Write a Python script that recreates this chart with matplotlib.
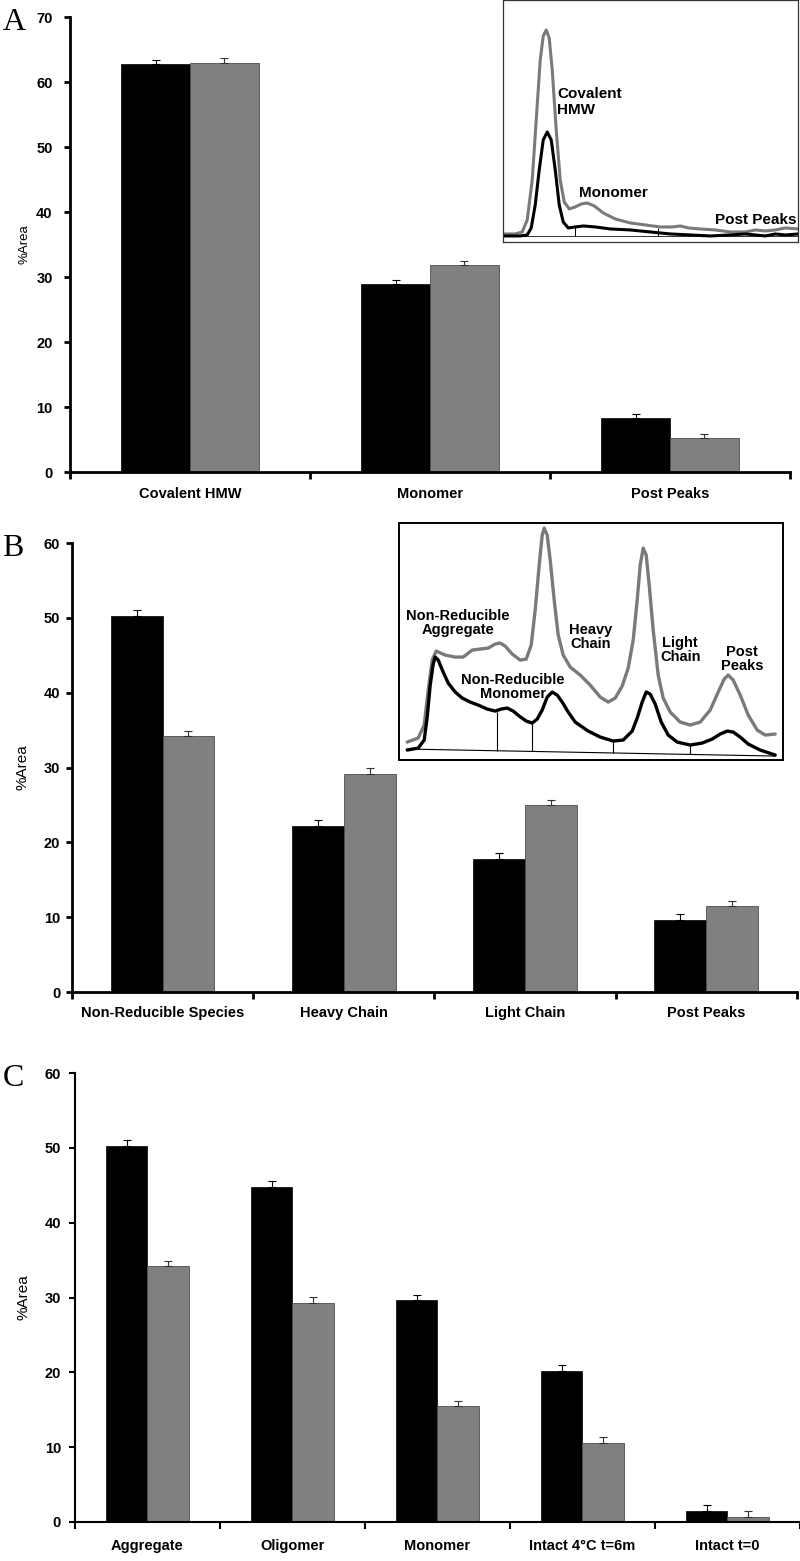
import numpy as np
import matplotlib
matplotlib.use('Agg')
import matplotlib.pyplot as plt

plt.rcParams['font.family'] = ['Liberation Sans', 'DejaVu Sans']

# ---- bar data ----
cats_a = ['Covalent HMW', 'Monomer', 'Post Peaks']
black_a = [62.8, 29.0, 8.3]
gray_a = [63.0, 31.9, 5.2]
black_a_err = [0.6, 0.6, 0.6]
gray_a_err = [0.7, 0.6, 0.7]

cats_b = ['Non-Reducible Species', 'Heavy Chain', 'Light Chain', 'Post Peaks']
black_b = [50.3, 22.2, 17.8, 9.6]
gray_b = [34.2, 29.2, 25.0, 11.5]
black_b_err = [0.8, 0.8, 0.8, 0.8]
gray_b_err = [0.7, 0.7, 0.7, 0.7]

cats_c = ['Aggregate', 'Oligomer', 'Monomer', 'Intact 4°C t=6m', 'Intact t=0']
black_c = [50.3, 44.8, 29.6, 20.2, 1.4]
gray_c = [34.2, 29.3, 15.5, 10.6, 0.7]
black_c_err = [0.8, 0.8, 0.8, 0.8, 0.9]
gray_c_err = [0.7, 0.8, 0.7, 0.7, 0.8]

# ---- inset chromatogram A ----
ga_t = [0, 12, 19, 24, 29, 33, 37, 40, 43, 46, 49, 53, 57, 61, 66, 72, 78, 84, 91, 100,
        112, 127, 142, 157, 169, 177, 185, 197, 212, 227, 242, 252, 262, 272, 282, 295]
ga_s = [2, 2, 4, 16, 56, 116, 176, 200, 206, 198, 166, 106, 56, 34, 27, 29, 32, 33, 30, 23,
        17, 13, 11, 9, 9, 10, 8, 7, 6, 4, 4, 6, 5, 6, 8, 7]
ka_t = [0, 17, 24, 28, 32, 36, 40, 44, 48, 52, 56, 60, 65, 72, 80, 92, 107, 127, 147, 167,
        187, 207, 227, 242, 252, 262, 272, 282, 295]
ka_s = [0, 0, 1, 8, 31, 66, 96, 104, 96, 66, 31, 14, 8, 9, 10, 9, 7, 6, 4, 2,
        1, 0, 1, 2, 1, 0, 2, 1, 2]
drop_a_t = [72, 155]
drop_a_s = [9, 8]

# ---- inset chromatogram B ----
kb_t = [8, 19, 25, 28, 31, 34, 36, 39, 44, 49, 56, 63, 71, 79, 88, 96, 102, 108, 114, 120,
        127, 133, 138, 143, 148, 153, 158, 163, 169, 176, 189, 201, 214, 224, 233, 238, 243,
        247, 251, 256, 262, 269, 278, 291, 303, 313, 321, 328, 334, 341, 349, 361, 376]
kb_s = [10, 12, 20, 43, 75, 96, 103, 100, 88, 77, 68, 62, 58, 55, 51, 49, 51, 52, 49, 44,
        39, 37, 41, 50, 63, 68, 65, 58, 48, 38, 29, 23, 19, 20, 29, 42, 58,
        68, 66, 56, 38, 25, 18, 15, 17, 21, 26, 29, 28, 23, 16, 10, 5]
gb_t = [8, 19, 25, 29, 33, 37, 46, 56, 64, 73, 81, 89, 96, 101, 106, 113, 121, 127, 132, 136,
        140, 143, 145, 148, 151, 155, 159, 164, 171, 181, 191, 201, 209, 216, 223, 229, 234,
        238, 241, 244, 247, 250, 254, 259, 264, 271, 281, 291, 301, 311, 319, 325, 329, 334,
        341, 349, 358, 366, 376]
gb_s = [18, 22, 35, 70, 100, 109, 105, 103, 103, 110, 111, 112, 116, 117, 114, 106, 100, 101,
        115, 150, 195, 225, 232, 225, 200, 160, 125, 105, 93, 85, 75, 63, 58, 62, 74, 92, 120,
        160, 195, 212, 205, 175, 130, 85, 62, 48, 38, 35, 38, 50, 68, 81, 85, 80,
        65, 45, 30, 25, 26]
base_b_t = [8, 376]
base_b_s = [11, 4]
drop_b_t = [98, 133, 214, 291]
drop_b_s = [48, 37, 19, 15]

BLACK = '#000000'
GRAY = '#808080'
W = 1 / 3.5  # Excel style, 150% gap


def bar_panel(ax, cats, blk, gry, blk_err, gry_err, ymax, step, lw, ypad, xpad):
    n = len(cats)
    x = np.arange(n) + 0.5
    ax.bar(x - W / 2, blk, W, color=BLACK, edgecolor=BLACK, linewidth=0.5, zorder=2)
    ax.bar(x + W / 2, gry, W, color=GRAY, edgecolor='#4d4d4d', linewidth=0.6, zorder=2)
    ax.errorbar(x - W / 2, blk, yerr=[np.zeros(n), blk_err], fmt='none', ecolor='black',
                elinewidth=0.8, capsize=3, capthick=0.8, zorder=3)
    ax.errorbar(x + W / 2, gry, yerr=[np.zeros(n), gry_err], fmt='none', ecolor='#333333',
                elinewidth=0.8, capsize=3, capthick=0.8, zorder=3)
    ax.set_xlim(0, n)
    ax.set_ylim(0, ymax)
    ax.set_yticks(np.arange(0, ymax + 1, step))
    ax.set_xticks(np.arange(0, n + 1))
    ax.set_xticklabels([])
    ax.set_xticks(x, minor=True)
    ax.set_xticklabels(cats, minor=True, fontsize=10.5, fontweight='bold')
    ax.tick_params(axis='x', which='major', direction='out', length=5, width=lw)
    ax.tick_params(axis='x', which='minor', length=0, pad=xpad)
    ax.tick_params(axis='y', direction='out', length=4, width=lw, pad=ypad,
                   labelsize=10.5)
    for lab in ax.get_yticklabels():
        lab.set_fontweight('bold')
    for s in ['top', 'right']:
        ax.spines[s].set_visible(False)
    for s in ['left', 'bottom']:
        ax.spines[s].set_linewidth(lw)


fig = plt.figure(figsize=(8, 15.61), dpi=100)

ax_a = fig.add_axes([0.0875, 0.6976, 0.9, 0.2915])
bar_panel(ax_a, cats_a, black_a, gray_a, black_a_err, gray_a_err, 70, 10, 2.0, 8.5, 11)
ax_a.set_ylabel('%Area', fontsize=9.5, labelpad=4)

ax_b = fig.add_axes([0.09, 0.3645, 0.906, 0.2876])
bar_panel(ax_b, cats_b, black_b, gray_b, black_b_err, gray_b_err, 60, 10, 2.0, 4.5, 10)
ax_b.set_ylabel('%Area', fontsize=11, labelpad=10)

ax_c = fig.add_axes([0.09375, 0.025, 0.906, 0.2876])
bar_panel(ax_c, cats_c, black_c, gray_c, black_c_err, gray_c_err, 60, 10, 1.5, 6, 12)
ax_c.set_ylabel('%Area', fontsize=11, labelpad=10)

serif = ['Liberation Serif', 'DejaVu Serif']
fig.text(0.003, 1 - 22 / 1561, 'A', family=serif, fontsize=23, va='center', ha='left')
fig.text(0.003, 1 - 548 / 1561, 'B', family=serif, fontsize=23, va='center', ha='left')
fig.text(0.003, 1 - 1078 / 1561, 'C', family=serif, fontsize=23, va='center', ha='left')

# ---- inset A ----
ia = fig.add_axes([0.629, 0.845, 0.369, 0.155])
ia.set_facecolor('white')
ia.plot([0, 295], [0, 0], color='#333333', lw=0.7)
ia.plot(ga_t, ga_s, color='#7a7a7a', lw=2.2, solid_capstyle='round', solid_joinstyle='round')
ia.plot(ka_t, ka_s, color='black', lw=2.2, solid_capstyle='round', solid_joinstyle='round')
ia.vlines(drop_a_t, 0, drop_a_s, color='black', lw=0.7)
ia.set_xlim(0, 295)
ia.set_ylim(-6, 236)
ia.set_xticks([])
ia.set_yticks([])
for s in ia.spines.values():
    s.set_linewidth(0.9)
    s.set_color('#333333')
ia.text(54, 134, 'Covalent\nHMW', fontsize=11, fontweight='bold', ha='left', va='center',
        linespacing=1.15)
ia.text(76, 43, 'Monomer', fontsize=11, fontweight='bold', ha='left', va='center')
ia.text(293, 16, 'Post Peaks', fontsize=11, fontweight='bold', ha='right', va='center')

# ---- inset B ----
ib = fig.add_axes([0.499, 0.5131, 0.48, 0.1518])
ib.set_facecolor('white')
ib.plot(base_b_t, base_b_s, color='black', lw=0.8)
ib.plot(gb_t, gb_s, color='#7a7a7a', lw=2.4, solid_capstyle='round', solid_joinstyle='round')
ib.plot(kb_t, kb_s, color='black', lw=2.4, solid_capstyle='round', solid_joinstyle='round')
base_at = np.interp(drop_b_t, base_b_t, base_b_s)
ib.vlines(drop_b_t, base_at, drop_b_s, color='black', lw=0.8)
ib.set_xlim(0, 384)
ib.set_ylim(0, 237)
ib.set_xticks([])
ib.set_yticks([])
for s in ib.spines.values():
    s.set_linewidth(1.4)
kw = dict(fontsize=10.5, fontweight='bold', ha='center', va='center', linespacing=1.05)
ib.text(59, 137, 'Non-Reducible\nAggregate', **kw)
ib.text(191, 123, 'Heavy\nChain', **kw)
ib.text(281, 110, 'Light\nChain', **kw)
ib.text(343, 101, 'Post\nPeaks', **kw)
ib.text(114, 73, 'Non-Reducible\nMonomer', **kw)

fig.savefig('out.png', dpi=100)
